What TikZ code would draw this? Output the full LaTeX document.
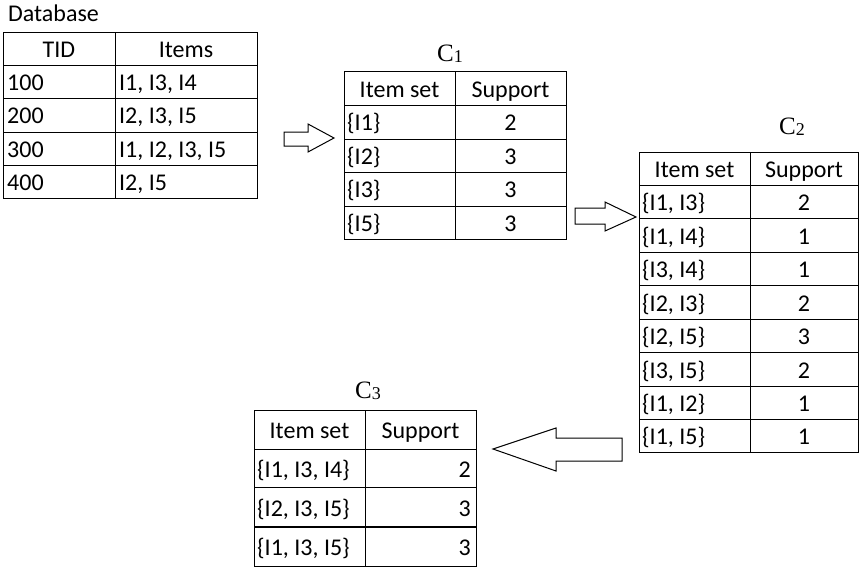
\documentclass[tikz,border=0pt]{standalone}
\usepackage{fontspec}
\setmainfont{Carlito}
\newfontfamily\serifC{Liberation Serif}
\newcommand\subdigit[1]{\raisebox{-1pt}{\fontsize{18}{18}\selectfont #1}}
\begin{document}
\begin{tikzpicture}[x=1pt,y=-1pt,
  cell/.style={inner sep=0pt, font=\fontsize{24}{24}\selectfont},
  lcell/.style={cell, anchor=base west},
  ccell/.style={cell, anchor=base},
  rcell/.style={cell, anchor=base east},
  grid/.style={line width=1pt, draw=black},
  thickgrid/.style={line width=2.2pt, draw=black},
  ttl/.style={inner sep=0pt, anchor=base, font=\serifC\fontsize{25}{25}\selectfont},
  blockarrow/.style={draw=black, line width=1pt, fill=white, line join=miter}]
\useasboundingbox (0,0) rectangle (861,567);

% ---------------- Database ----------------
\node[lcell] (dbtitle) at (8,22) {Database};
\draw[grid] (3,33) rectangle (257,198);
\foreach \y in {66,99,132,165} \draw[grid] (3,\y) -- (257,\y);
\draw[grid] (115,33) -- (115,198);
\node[ccell] (dbh1) at (59,57.5) {TID};
\node[ccell] (dbh2) at (186,57.5) {Items};
\node[lcell] (db11) at (7,91) {100};
\node[lcell] (db12) at (119,91) {I1, I3, I4};
\node[lcell] (db21) at (7,124) {200};
\node[lcell] (db22) at (119,124) {I2, I3, I5};
\node[lcell] (db31) at (7,157) {300};
\node[lcell] (db32) at (119,157) {I1, I2, I3, I5};
\node[lcell] (db41) at (7,190) {400};
\node[lcell] (db42) at (119,190) {I2, I5};

% ---------------- C1 ----------------
\node[ttl] (c1lab) at (450,62) {C\subdigit{1}};
\draw[grid] (344,72) rectangle (566,239);
\foreach \y in {106,139,172,206} \draw[grid] (344,\y) -- (566,\y);
\draw[grid] (455,72) -- (455,239);
\node[ccell] (c1h1) at (399.5,98) {Item set};
\node[ccell] (c1h2) at (510.5,98) {Support};
\node[lcell] (c1a1) at (347,131) {\{I1\}};
\node[ccell] (c1a2) at (510.5,131) {2};
\node[lcell] (c1b1) at (347,164) {\{I2\}};
\node[ccell] (c1b2) at (510.5,164) {3};
\node[lcell] (c1c1) at (347,197) {\{I3\}};
\node[ccell] (c1c2) at (510.5,197) {3};
\node[lcell] (c1d1) at (347,231) {\{I5\}};
\node[ccell] (c1d2) at (510.5,231) {3};

% ---------------- C2 ----------------
\node[ttl] (c2lab) at (792,135) {C\subdigit{2}};
\draw[grid] (639,152) rectangle (858,452);
\foreach \y in {185,218,252,285,319,352,386,419} \draw[grid] (639,\y) -- (858,\y);
\draw[grid] (750,152) -- (750,452);
\node[ccell] (c2h1) at (694.5,177) {Item set};
\node[ccell] (c2h2) at (804,177) {Support};
\node[lcell] (c2a1) at (642,210) {\{I1, I3\}};
\node[ccell] (c2a2) at (804,210) {2};
\node[lcell] (c2b1) at (642,244) {\{I1, I4\}};
\node[ccell] (c2b2) at (804,244) {1};
\node[lcell] (c2c1) at (642,277) {\{I3, I4\}};
\node[ccell] (c2c2) at (804,277) {1};
\node[lcell] (c2d1) at (642,311) {\{I2, I3\}};
\node[ccell] (c2d2) at (804,311) {2};
\node[lcell] (c2e1) at (642,344) {\{I2, I5\}};
\node[ccell] (c2e2) at (804,344) {3};
\node[lcell] (c2f1) at (642,378) {\{I3, I5\}};
\node[ccell] (c2f2) at (804,378) {2};
\node[lcell] (c2g1) at (642,411) {\{I1, I2\}};
\node[ccell] (c2g2) at (804,411) {1};
\node[lcell] (c2h1b) at (642,444) {\{I1, I5\}};
\node[ccell] (c2h2b) at (804,444) {1};

% ---------------- C3 ----------------
\node[ttl] (c3lab) at (368,398) {C\subdigit{3}};
\draw[grid] (254,410) rectangle (476,566.5);
\draw[grid] (254,449) -- (476,449);
\draw[grid] (254,487) -- (476,487);
\draw[thickgrid] (254,527) -- (476,527);
\draw[grid] (365,410) -- (365,566.5);
\node[ccell] (c3h1) at (309.5,438) {Item set};
\node[ccell] (c3h2) at (420.5,438) {Support};
\node[lcell] (c3a1) at (257,477) {\{I1, I3, I4\}};
\node[rcell] (c3a2) at (471,477) {2};
\node[lcell] (c3b1) at (257,516) {\{I2, I3, I5\}};
\node[rcell] (c3b2) at (471,516) {3};
\node[lcell] (c3c1) at (257,555) {\{I1, I3, I5\}};
\node[rcell] (c3c2) at (471,555) {3};

% ---------------- block arrows ----------------
\draw[blockarrow] (284,132) -- (308,132) -- (308,124) -- (334,138) -- (308,152) -- (308,146) -- (284,146) -- cycle;
\draw[blockarrow] (575,208) -- (605,208) -- (605,202) -- (636,217) -- (605,231) -- (605,224) -- (575,224) -- cycle;
\draw[blockarrow] (622,438) -- (556,438) -- (556,428) -- (493,449) -- (556,471) -- (556,461) -- (622,461) -- cycle;
\end{tikzpicture}
\end{document}
